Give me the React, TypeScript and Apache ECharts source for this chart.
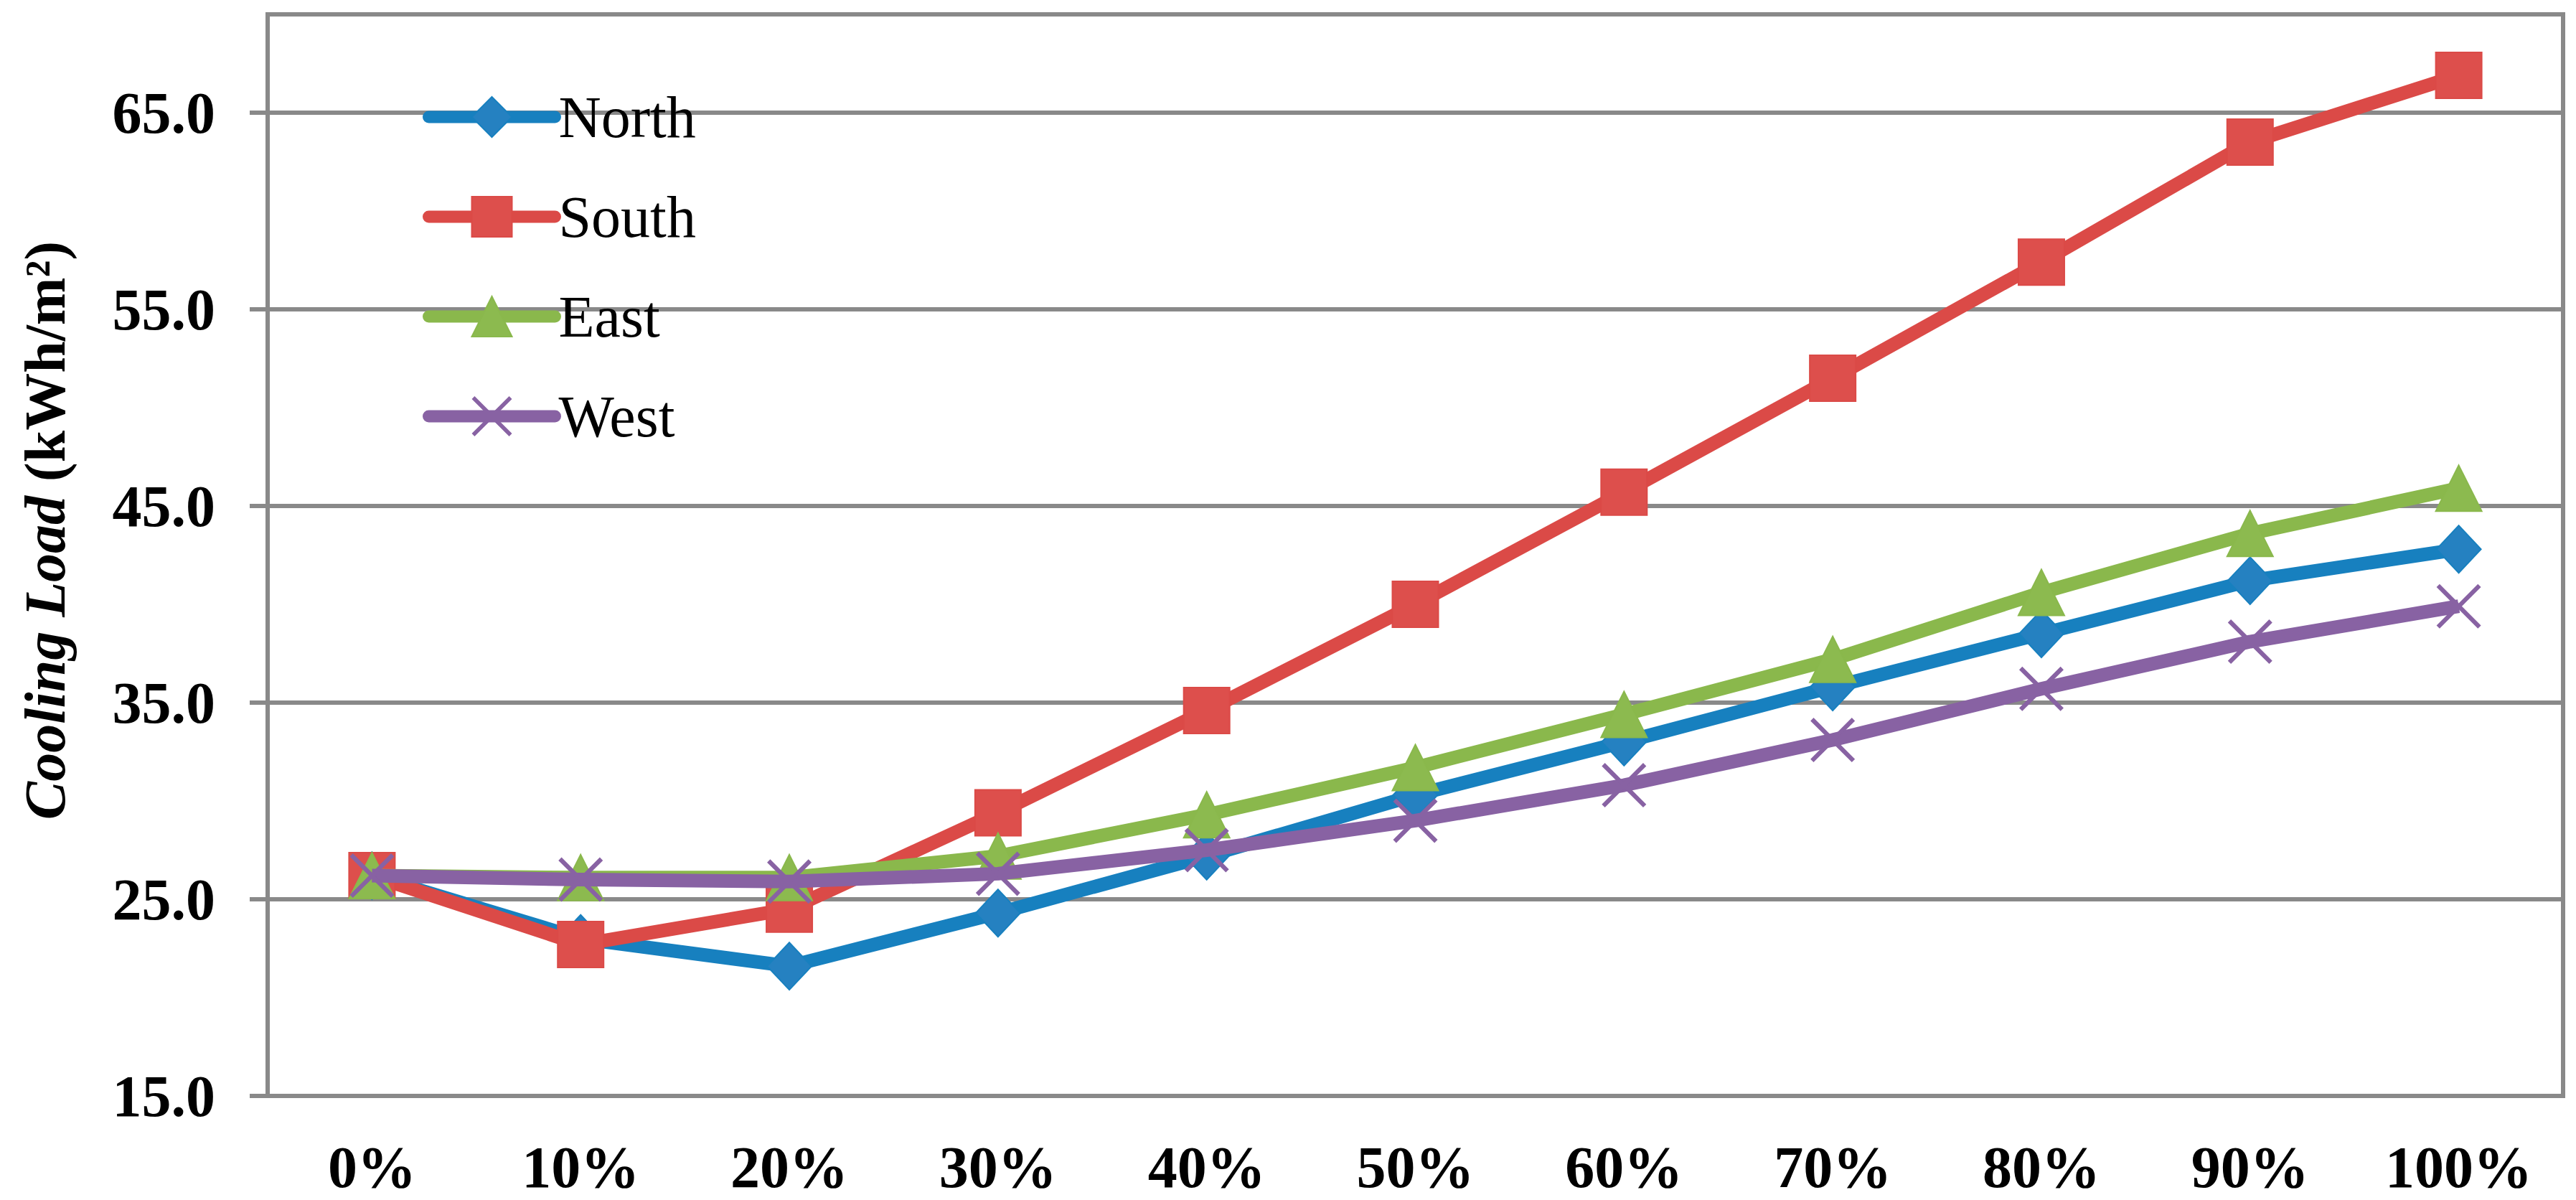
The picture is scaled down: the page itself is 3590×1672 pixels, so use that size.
import React, { useEffect, useRef } from "react";
import * as echarts from "echarts";

const categories = ["0%", "10%", "20%", "30%", "40%", "50%", "60%", "70%", "80%", "90%", "100%"];
const seriesNames = ["North", "South", "East", "West"];
const northValues = [26.2, 23.0, 21.6, 24.3, 27.2, 30.3, 33.0, 35.8, 38.5, 41.2, 42.8];
const southValues = [26.2, 22.7, 24.5, 29.4, 34.6, 40.0, 45.7, 51.5, 57.4, 63.5, 66.9];
const eastValues = [26.2, 26.1, 26.1, 27.2, 29.3, 31.7, 34.4, 37.2, 40.6, 43.6, 45.9];
const westValues = [26.2, 26.0, 25.9, 26.3, 27.5, 29.0, 30.8, 33.1, 35.7, 38.1, 39.9];
const yMin = 15;
const yMax = 70;
const yInterval = 10;

const FONT = "'Liberation Serif', 'Times New Roman', serif";
const GRAY = "#898989";
const X_PATH =
  "path://M0,7 L7,0 L50,43 L93,0 L100,7 L57,50 L100,93 L93,100 L50,57 L7,100 L0,93 L43,50 Z";

export default function App() {
  const ref = useRef<HTMLDivElement>(null);

  useEffect(() => {
    if (!ref.current) return;
    const chart = echarts.init(ref.current, undefined, { renderer: "svg" });

    const styles = [
      { data: northValues, line: "#1780bf", fill: "#2581c1", symbol: "diamond", size: [62, 66] },
      { data: southValues, line: "#db4a47", fill: "#dd4f4c", symbol: "rect", size: 64 },
      { data: eastValues, line: "#8ab84c", fill: "#8cba4f", symbol: "triangle", size: 64 },
      { data: westValues, line: "#8862a3", fill: "#8862a3", symbol: X_PATH, size: 62 },
    ];

    const option: any = {
      animation: false,
      backgroundColor: "#ffffff",
      grid: {
        left: 373,
        right: 18,
        top: 20,
        bottom: 145,
        show: true,
        borderColor: GRAY,
        borderWidth: 6,
        backgroundColor: "transparent",
      },
      legend: {
        orient: "vertical",
        left: 589,
        top: 122,
        padding: 0,
        itemWidth: 176,
        itemHeight: 70,
        itemGap: 57,
        data: seriesNames,
        lineStyle: { width: 17, cap: "round" },
        textStyle: {
          fontFamily: FONT,
          fontSize: 82,
          color: "#000",
          lineHeight: 70,
          padding: [0, 0, 0, 0],
        },
      },
      xAxis: {
        type: "category",
        data: categories,
        boundaryGap: true,
        axisLine: { show: true, lineStyle: { color: GRAY, width: 6 } },
        axisTick: { show: false },
        axisLabel: {
          margin: 58,
          fontFamily: FONT,
          fontSize: 82,
          fontWeight: "bold",
          color: "#000",
          interval: 0,
        },
        splitLine: { show: false },
      },
      yAxis: {
        type: "value",
        min: yMin,
        max: yMax,
        interval: yInterval,
        axisLine: { show: true, lineStyle: { color: GRAY, width: 6 } },
        axisTick: { show: true, inside: false, length: 25, lineStyle: { color: GRAY, width: 6 } },
        axisLabel: {
          margin: 73,
          fontFamily: FONT,
          fontSize: 82,
          fontWeight: "bold",
          color: "#000",
          showMaxLabel: false,
          formatter: (v: number) => v.toFixed(1),
        },
        splitLine: { show: true, lineStyle: { color: GRAY, width: 6 } },
      },
      graphic: [
        {
          type: "text",
          x: 63,
          y: 739,
          rotation: Math.PI / 2,
          style: {
            text: "{i|Cooling Load }{b|(kWh/m²)}",
            align: "center",
            verticalAlign: "middle",
            rich: {
              i: { fontFamily: FONT, fontSize: 80, fontWeight: "bold", fontStyle: "italic", fill: "#000" },
              b: { fontFamily: FONT, fontSize: 80, fontWeight: "bold", fill: "#000" },
            },
          },
        },
      ],
      series: styles.map((s, i) => ({
        name: seriesNames[i],
        type: "line",
        data: s.data,
        z: 2 + i,
        symbol: s.symbol,
        symbolSize: s.size,
        showAllSymbol: true,
        lineStyle: { color: s.line, width: 19, join: "round" },
        itemStyle: { color: s.fill, borderColor: s.line, borderWidth: i === 3 ? 0 : 2, opacity: 1 },
        emphasis: { disabled: true },
      })),
    };

    chart.setOption(option);
    return () => chart.dispose();
  }, []);

  return (
    <div
      ref={ref}
      style={{ position: "fixed", left: 0, top: 0, width: 3590, height: 1672, background: "#fff" }}
    />
  );
}
